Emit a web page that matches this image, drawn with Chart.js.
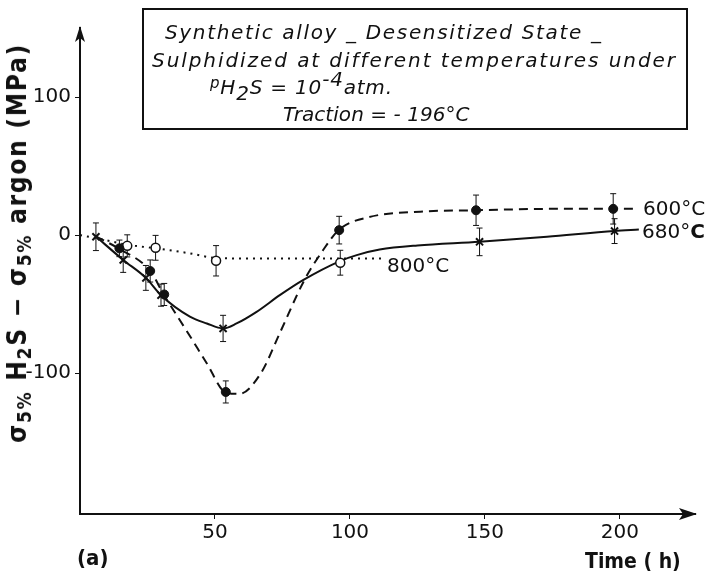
<!DOCTYPE html>
<html>
<head>
<meta charset="utf-8">
<script src="https://cdn.jsdelivr.net/npm/chart.js@4.4.0/dist/chart.umd.min.js"></script>
<style>
  html, body { margin: 0; padding: 0; background: #fff; }
  #wrap { position: relative; width: 712px; height: 580px; overflow: hidden; }
  #plot { position: absolute; left: 0; top: 0; }
  .t { position: absolute; white-space: nowrap; color: #111; line-height: 1; }
  .box { position: absolute; left: 142px; top: 8px; width: 542px; height: 118px; border: 2px solid #111; }
  .it { font-family: "DejaVu Sans", sans-serif; font-style: italic; font-size: 20px; }
  .num { font-family: "DejaVu Sans", sans-serif; font-size: 20px; }
  .bold { font-family: "DejaVu Sans Condensed", "DejaVu Sans", sans-serif; font-weight: bold; }
  #ytitle { font-size: 26px; transform: translate(-50%, -50%) rotate(-90deg); }
  #ytitle sub { font-size: 19px; vertical-align: -5px; }
</style>
</head>
<body>
<div id="wrap">
  <canvas id="plot" width="712" height="580"></canvas>

  <div class="box"></div>
  <div class="t it" id="l1" style="left:165px; top:22px;">Synthetic alloy _ Desensitized State _</div>
  <div class="t it" id="l2" style="left:152px; top:50px;">Sulphidized at different temperatures under</div>
  <div class="t it" id="l3" style="left:210px; top:77px;"><span style="font-size:15px; position:relative; top:-6px;">p</span>H<span style="position:relative; top:6px;">2</span>S = 10<span style="position:relative; top:-8px;">-4</span>atm.</div>
  <div class="t it" id="l4" style="left:283px; top:104px;">Traction = - 196°C</div>

  <div class="t bold" id="ytitle" style="left:19px; top:243px;">σ<sub>5%</sub> H<sub>2</sub>S − σ<sub>5%</sub> argon (MPa)</div>

  <div class="t num" id="lab600" style="left:643px; top:198px;"></div>
  <div class="t num" id="lab680" style="left:642px; top:221px;"></div>
  <div class="t num" id="lab800" style="left:387px; top:255px;"></div>

  <div class="t bold" style="left:77px; top:547px; font-size:22px;">(a)</div>
  <div class="t bold" id="xtitle" style="left:585px; top:551px; font-size:21px;">Time ( h)</div>
</div>

<script>
// axis ticks
const xTicks = [50, 100, 150, 200];
const yTicks = [-100, 0, 100];

const curve600X = [5.9, 14.6, 26, 31, 41, 47, 54, 59, 67, 74, 83, 90, 96, 107, 126, 147, 175, 198, 206];
const curve600Y = [-1, -10, -26, -43, -74, -93, -114, -115, -100, -71, -33, -11, 4, 13, 17, 18, 19, 19, 19];
const curve680X = [5.9, 16, 24.4, 30, 40.7, 47, 53, 58, 65.4, 74, 82.6, 96.3, 102.5, 111, 125, 148, 173, 198, 207];
const curve680Y = [-1, -18, -31, -43.5, -59, -64, -67.6, -64, -55.6, -43.5, -32.6, -18.8, -14.5, -10.5, -7.5, -4.9, -1.2, 3, 4];
const curve800X = [0, 8, 17.5, 28, 40, 50.4, 65, 80, 96.4, 112];
const curve800Y = [0, -3, -7, -9.5, -13, -16.5, -17, -17, -17, -17];

// measured points (time h, MPa) and error half-widths
const pts600X = [14.6, 26, 31.2, 54, 96, 146.7, 197.5];
const pts600Y = [-9.6, -26, -43, -113.6, 3.6, 18, 19];
const pts600Err = [6, 8, 8, 8, 10, 11, 11];
const pts680X = [5.9, 16, 24.4, 30, 53, 148, 198];
const pts680Y = [-1.2, -18, -31, -43.5, -67.6, -4.9, 2.9];
const pts680Err = [10, 9, 9, 8, 9.5, 10, 9];
const pts800X = [17.5, 28, 50.4, 96.4];
const pts800Y = [-7.8, -9.2, -18.6, -20];
const pts800Err = [8, 9, 11, 9];

const seriesLabels = ['600°C', '680°C', '800°C'];

document.getElementById('lab600').textContent = '600°C';
document.getElementById('lab680').innerHTML = '680°<b>C</b>';
document.getElementById('lab800').textContent = '800°C';

function pts(xs, ys){
    return xs.map((x, i) => ({ x: x, y: ys[i] }));
}

// spread a text line so it spans the same width as in the figure
function fitWidth(id, target){
    const el = document.getElementById(id);
    el.style.letterSpacing = '0px';
    const w = el.offsetWidth;
    const n = el.textContent.length;
    el.style.letterSpacing = ((target - w) / n) + 'px';
}
fitWidth('l1', 438);
fitWidth('l2', 525);
fitWidth('l3', 183);
fitWidth('l4', 187);
fitWidth('ytitle', 400);

const ink = '#111';
const errs = { 0: pts600Err, 1: pts680Err, 2: pts800Err };

const errorBars = {
    id: 'errorBars',
    beforeDatasetsDraw(chart){
        const ctx = chart.ctx;
        const xs = chart.scales.x, ys = chart.scales.y;
        ctx.save();
        ctx.strokeStyle = ink;
        ctx.lineWidth = 1;
        Object.keys(errs).forEach(k => {
            const ds = chart.data.datasets[k];
            ds.data.forEach((p, i) => {
                const px = xs.getPixelForValue(p.x);
                const top = ys.getPixelForValue(p.y + errs[k][i]);
                const bot = ys.getPixelForValue(p.y - errs[k][i]);
                ctx.beginPath();
                ctx.moveTo(px, top); ctx.lineTo(px, bot);
                ctx.moveTo(px - 3, top); ctx.lineTo(px + 3, top);
                ctx.moveTo(px - 3, bot); ctx.lineTo(px + 3, bot);
                ctx.stroke();
            });
        });
        ctx.restore();
    }
};

const axisArrows = {
    id: 'axisArrows',
    afterDraw(chart){
        const a = chart.chartArea;
        const ctx = chart.ctx;
        ctx.save();
        ctx.fillStyle = ink;
        ctx.beginPath();
        ctx.moveTo(a.right + 2, a.bottom);
        ctx.lineTo(a.right - 16, a.bottom - 6);
        ctx.lineTo(a.right - 12, a.bottom);
        ctx.lineTo(a.right - 16, a.bottom + 6);
        ctx.closePath();
        ctx.fill();
        ctx.beginPath();
        ctx.moveTo(a.left, a.top - 2);
        ctx.lineTo(a.left - 5, a.top + 14);
        ctx.lineTo(a.left, a.top + 10);
        ctx.lineTo(a.left + 5, a.top + 14);
        ctx.closePath();
        ctx.fill();
        ctx.restore();
    }
};

const tickFont = { family: 'DejaVu Sans', size: 20 };

new Chart(document.getElementById('plot'), {
    type: 'scatter',
    data: {
        datasets: [
            { label: seriesLabels[0], data: pts(pts600X, pts600Y), pointStyle: 'circle', pointRadius: 4.5, backgroundColor: ink, borderColor: ink, borderWidth: 1 },
            { label: seriesLabels[1], data: pts(pts680X, pts680Y), pointStyle: 'crossRot', pointRadius: 5, borderColor: ink, borderWidth: 2 },
            { label: seriesLabels[2], data: pts(pts800X, pts800Y), pointStyle: 'circle', pointRadius: 4.5, backgroundColor: '#fff', borderColor: ink, borderWidth: 1.5 },
            { label: seriesLabels[0] + ' curve', data: pts(curve600X, curve600Y), showLine: true, pointRadius: 0, borderColor: ink, borderWidth: 2, borderDash: [9, 6], cubicInterpolationMode: 'monotone' },
            { label: seriesLabels[1] + ' curve', data: pts(curve680X, curve680Y), showLine: true, pointRadius: 0, borderColor: ink, borderWidth: 2, cubicInterpolationMode: 'monotone' },
            { label: seriesLabels[2] + ' curve', data: pts(curve800X, curve800Y), showLine: true, pointRadius: 0, borderColor: ink, borderWidth: 2, borderDash: [2, 5], cubicInterpolationMode: 'monotone' }
        ]
    },
    options: {
        responsive: false,
        animation: false,
        events: [],
        layout: { padding: { top: 28, right: 17, left: 0, bottom: 0 } },
        plugins: { legend: { display: false }, tooltip: { enabled: false }, title: { display: false } },
        scales: {
            x: {
                type: 'linear', min: 0, max: 227.8,
                afterBuildTicks: s => { s.ticks = xTicks.map(v => ({ value: v })); },
                afterFit: s => { s.height = 66; },
                ticks: { font: tickFont, color: ink, padding: 2, maxRotation: 0 },
                grid: { drawOnChartArea: false, drawTicks: true, tickLength: 5, color: ink },
                border: { display: true, color: ink, width: 2 }
            },
            y: {
                type: 'linear', min: -202, max: 150,
                afterBuildTicks: s => { s.ticks = yTicks.map(v => ({ value: v })); },
                afterFit: s => { s.width = 80; },
                ticks: { font: tickFont, color: ink, padding: 4 },
                grid: { drawOnChartArea: false, drawTicks: true, tickLength: 5, color: ink },
                border: { display: true, color: ink, width: 2 }
            }
        }
    },
    plugins: [errorBars, axisArrows]
});
</script>
</body>
</html>
